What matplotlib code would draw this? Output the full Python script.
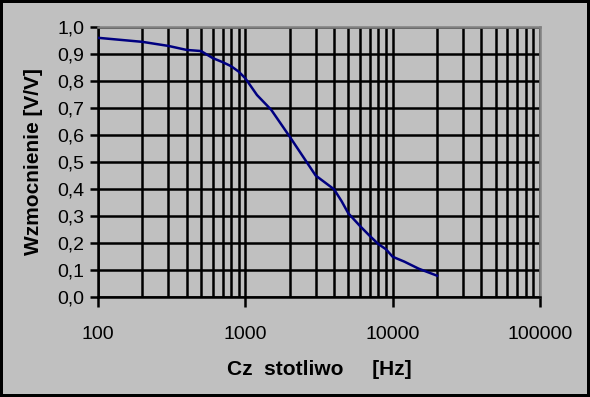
import numpy as np
import matplotlib
matplotlib.use('Agg')
import matplotlib.pyplot as plt
from matplotlib.ticker import FixedLocator, FuncFormatter, LogLocator, NullFormatter

plt.rcParams['font.family'] = ['Liberation Sans', 'DejaVu Sans']

# frequency [Hz] and gain [V/V]
freq = [100, 200, 300, 400, 500, 600, 700, 800, 900, 1000, 1200, 1500,
        2000, 3000, 4000, 4500, 5000, 6000, 7000, 8000, 9000, 10000,
        12000, 15000, 20000]
gain = [0.960, 0.945, 0.930, 0.915, 0.911, 0.885, 0.870, 0.855, 0.835, 0.810,
        0.748, 0.693, 0.594, 0.450, 0.399, 0.355, 0.310, 0.263, 0.226, 0.196,
        0.177, 0.149, 0.131, 0.105, 0.079]

y_ticks = np.arange(0, 11) / 10

fig = plt.figure(figsize=(5.9, 3.97), dpi=100, facecolor='#c0c0c0',
                 edgecolor='black', linewidth=4)
ax = fig.add_axes([98 / 590, 100 / 397, 442 / 590, 270 / 397])
ax.set_facecolor('#c0c0c0')

ax.plot(freq, gain, color='#000080', linewidth=1.8, zorder=3)

ax.set_xscale('log')
ax.set_xlim(100, 100000)
ax.set_ylim(0, 1.0)

ax.xaxis.set_major_locator(LogLocator(base=10))
ax.xaxis.set_minor_locator(LogLocator(base=10, subs=np.arange(2, 10)))
ax.xaxis.set_major_formatter(FuncFormatter(lambda v, p: '%d' % v))
ax.xaxis.set_minor_formatter(NullFormatter())
ax.yaxis.set_major_locator(FixedLocator(y_ticks))
ax.yaxis.set_major_formatter(FuncFormatter(lambda v, p: ('%.1f' % v).replace('.', ',')))

ax.grid(True, which='major', color='black', linewidth=1.8)
ax.grid(True, which='minor', axis='x', color='black', linewidth=1.8)
ax.set_axisbelow(True)

ax.tick_params(axis='x', which='major', direction='out', length=7, width=1.8,
               labelsize=14, pad=14)
ax.tick_params(axis='x', which='minor', length=0)
ax.tick_params(axis='y', direction='out', length=6, width=1.8, labelsize=14, pad=4)

for s in ['left', 'bottom']:
    ax.spines[s].set_color('black')
    ax.spines[s].set_linewidth(1.8)
for s in ['top', 'right']:
    ax.spines[s].set_color('#808080')
    ax.spines[s].set_linewidth(1.8)

ax.set_xlabel('Cz  stotliwo     [Hz]', fontsize=15, fontweight='bold', labelpad=12)
ax.set_ylabel('Wzmocnienie [V/V]', fontsize=15, fontweight='bold', labelpad=10)

fig.savefig('out.png', dpi=100)
